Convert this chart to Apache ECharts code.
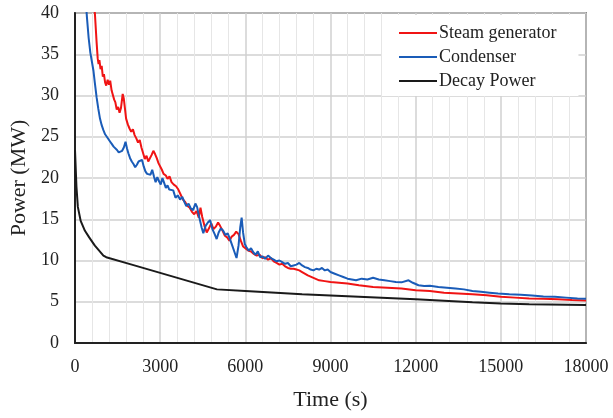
<!DOCTYPE html>
<html>
<head>
<meta charset="utf-8">
<script src="https://cdn.jsdelivr.net/npm/echarts@6/dist/echarts.min.js"></script>
<style>
  html, body { margin: 0; padding: 0; background: #fff; }
  #chart { width: 613px; height: 418px; }
</style>
</head>
<body>
<div id="chart"></div>
<script>
// time (s) and power (MW)
var seriesNames = ['Steam generator', 'Condenser', 'Decay Power'];

var sgTime = [640, 700, 760, 800, 830, 860, 900, 940, 980, 1020, 1060, 1100, 1150, 1200, 1240, 1290, 1340, 1380, 1420, 1470,
    1520, 1570, 1620, 1680, 1720, 1760, 1800, 1860, 1920, 1980, 2040, 2100, 2160, 2220, 2280, 2340, 2400, 2460, 2520, 2580,
    2640, 2700, 2760, 2820, 2880, 2940, 3000, 3060, 3120, 3200, 3260, 3330, 3400, 3480, 3560, 3640, 3720, 3800, 3880, 3960,
    4040, 4120, 4200, 4280, 4360, 4420, 4480, 4560, 4640, 4720, 4800, 4880, 4960, 5040, 5110, 5200, 5280, 5360, 5440, 5520,
    5600, 5680, 5760, 5840, 5920, 6000, 6100, 6200, 6300, 6400, 6500, 6600, 6700, 6800, 6900, 7000, 7100, 7200, 7300, 7400,
    7500, 7600, 7700, 7800, 7900, 8000, 8200, 8400, 8600, 8800, 9000, 9300, 9600, 10000, 10500, 11000, 11500, 12000, 12500, 13000,
    13500, 14000, 14500, 15000, 15500, 16000, 16500, 17000, 17500, 18000];
var sgPower = [41, 40, 36.5, 34.5, 33.8, 34.3, 33.2, 33.6, 32.3, 32.6, 31.6, 31.2, 31.9, 31.3, 31.8, 30.6, 30.4, 29.5, 29.2, 28.3,
    28.6, 27.9, 28.5, 30.2, 29.6, 28.4, 27.2, 26.5, 26.0, 25.6, 25.9, 25.2, 24.8, 24.3, 24.6, 23.7, 23.0, 22.3, 22.7, 22.0,
    22.2, 22.8, 23.3, 22.9, 22.4, 21.8, 21.6, 21.0, 20.5, 20.3, 19.9, 20.2, 19.5, 19.2, 19.0, 18.6, 18.0, 17.4, 17.1, 16.6,
    16.4, 15.9, 15.6, 16.0, 15.2, 16.4, 15.3, 14.2, 13.4, 13.9, 14.5, 13.8, 14.1, 14.6, 14.2, 13.6, 13.0, 12.8, 12.4, 12.9,
    13.1, 13.5, 13.2, 12.4, 11.7, 11.5, 11.2, 11.1, 10.8, 10.6, 10.7, 10.3, 10.4, 10.1, 10.3, 9.9, 9.7, 9.5, 9.6, 9.3,
    9.1, 9.0, 9.0, 8.9, 8.8, 8.6, 8.2, 7.9, 7.6, 7.5, 7.4, 7.3, 7.2, 7.0, 6.8, 6.7, 6.6, 6.4, 6.3, 6.1,
    6.0, 5.9, 5.8, 5.6, 5.5, 5.4, 5.35, 5.3, 5.2, 5.15];

var cdTime = [380, 420, 480, 540, 600, 650, 700, 760, 820, 880, 940, 1000, 1060, 1120, 1180, 1240, 1300, 1360, 1420, 1480,
    1540, 1600, 1660, 1720, 1780, 1830, 1880, 1940, 2000, 2060, 2120, 2180, 2240, 2300, 2360, 2420, 2480, 2540, 2600, 2660,
    2720, 2780, 2840, 2900, 2960, 3020, 3080, 3140, 3200, 3260, 3320, 3380, 3460, 3540, 3620, 3700, 3780, 3850, 3920, 4000,
    4080, 4160, 4240, 4300, 4380, 4460, 4520, 4600, 4680, 4760, 4840, 4920, 4990, 5060, 5140, 5220, 5300, 5380, 5460, 5540,
    5620, 5690, 5760, 5820, 5870, 5920, 5980, 6040, 6120, 6200, 6280, 6360, 6440, 6520, 6600, 6700, 6800, 6900, 7000, 7100,
    7200, 7300, 7400, 7500, 7600, 7700, 7800, 7900, 8000, 8100, 8200, 8300, 8400, 8500, 8600, 8700, 8800, 8900, 9000, 9150,
    9300, 9450, 9600, 9750, 9900, 10100, 10300, 10500, 10700, 10900, 11100, 11300, 11500, 11750, 11900, 12100, 12300, 12500, 12800, 13100,
    13400, 13700, 14000, 14300, 14600, 14900, 15300, 15700, 16100, 16500, 16900, 17300, 17700, 18000];
var cdPower = [41.5, 39.5, 37, 35.2, 34.0, 33.0, 31.5, 29.8, 28.4, 27.2, 26.4, 25.8, 25.3, 25.0, 24.7, 24.4, 24.1, 23.8, 23.6, 23.4,
    23.1, 22.9, 23.3, 23.7, 24.4, 23.6, 23.0, 22.4, 22.0, 21.7, 21.3, 21.6, 22.0, 21.8, 22.2, 21.4, 20.8, 20.5, 20.3, 20.4,
    21.0, 20.2, 19.5, 20.1, 19.6, 19.2, 20.0, 19.4, 18.8, 19.1, 18.6, 18.4, 18.5, 17.6, 17.9, 17.4, 17.7, 17.1, 16.6, 16.9,
    16.3, 16.1, 16.9, 16.5, 15.2, 14.0, 13.3, 14.2, 14.6, 14.9, 13.8, 13.2, 12.6, 13.4, 13.9, 13.6, 13.1, 13.3, 12.6, 11.8,
    11.0, 10.3, 11.8, 14.0, 15.2, 13.4, 12.0, 11.6, 11.2, 11.5, 11.0, 10.7, 11.1, 10.4, 10.5, 10.2, 10.6, 10.3, 10.1, 9.9,
    10.0, 9.8, 9.6, 9.7, 9.3, 9.4, 9.5, 9.7, 9.4, 9.2, 9.1, 8.9, 8.8, 9.0, 8.9, 9.1, 8.8, 8.9, 8.6, 8.4,
    8.2, 8.0, 7.8, 7.7, 7.6, 7.8, 7.7, 7.9, 7.7, 7.6, 7.5, 7.4, 7.35, 7.6, 7.3, 7.0, 6.9, 6.95, 6.8, 6.7,
    6.6, 6.5, 6.3, 6.2, 6.1, 6.0, 5.9, 5.85, 5.75, 5.65, 5.6, 5.5, 5.4, 5.35];

var dpTime = [0, 50, 100, 200, 350, 500, 700, 1000, 1100, 2000, 3000, 4000, 5000, 6000, 8000, 10000, 12000, 14000, 15000, 16000, 18000];
var dpPower = [23.4, 19, 16.5, 14.8, 13.6, 12.8, 11.8, 10.6, 10.4, 9.5, 8.5, 7.5, 6.5, 6.3, 5.9, 5.6, 5.3, 4.95, 4.8, 4.7, 4.6];

var xTicks = [0, 3000, 6000, 9000, 12000, 15000, 18000];
var yTicks = [0, 5, 10, 15, 20, 25, 30, 35, 40];

function zip(t, v) {
    var out = [];
    for (var i = 0; i < t.length; i++) {
        out.push([t[i], v[i]]);
    }
    return out;
}

var font = '"Liberation Serif", "Times New Roman", serif';
var colors = ['#f01414', '#1a5cb8', '#1a1a1a'];

var chart = echarts.init(document.getElementById('chart'));
var option = {
    animation: false,
    backgroundColor: '#fff',
    grid: {
        left: 75, right: 27, top: 13, bottom: 75,
        show: true,
        borderColor: '#333',
        borderWidth: 1.5
    },
    legend: {
        orient: 'vertical',
        left: 382,
        top: 15,
        padding: [9, 22, 6, 17],
        backgroundColor: '#fff',
        itemWidth: 38,
        itemHeight: 2,
        itemGap: 6,
        icon: 'rect',
        textStyle: { fontFamily: font, fontSize: 18, color: '#222', padding: [0, 0, 0, -3] },
        data: seriesNames
    },
    xAxis: {
        type: 'value',
        min: xTicks[0],
        max: xTicks[xTicks.length - 1],
        interval: 3000,
        name: 'Time (s)',
        nameLocation: 'middle',
        nameGap: 46,
        nameTextStyle: { fontFamily: font, fontSize: 22, color: '#222' },
        axisLine: { show: true, lineStyle: { color: '#222', width: 2 } },
        axisTick: { show: false },
        axisLabel: {
            fontFamily: font, fontSize: 18, color: '#222', margin: 15,
            formatter: function (v) { return String(v); }
        },
        splitLine: { show: true, lineStyle: { color: '#d0d0d0', width: 1.5 } },
        minorTick: { show: false, splitNumber: 5 },
        minorSplitLine: { show: true, lineStyle: { color: '#e6e6e6', width: 1 } }
    },
    yAxis: {
        type: 'value',
        min: yTicks[0],
        max: yTicks[yTicks.length - 1],
        interval: 5,
        name: 'Power (MW)',
        nameLocation: 'middle',
        nameGap: 45,
        nameTextStyle: { fontFamily: font, fontSize: 22, color: '#222' },
        axisLine: { show: true, lineStyle: { color: '#222', width: 2 } },
        axisTick: { show: false },
        axisLabel: { fontFamily: font, fontSize: 18, color: '#222', margin: 16 },
        splitLine: { show: true, lineStyle: { color: '#d0d0d0', width: 1.5 } }
    },
    series: [
        {
            name: seriesNames[0],
            type: 'line',
            data: zip(sgTime, sgPower),
            showSymbol: false,
            clip: true,
            z: 3,
            lineStyle: { color: colors[0], width: 2 },
            itemStyle: { color: colors[0] }
        },
        {
            name: seriesNames[1],
            type: 'line',
            data: zip(cdTime, cdPower),
            showSymbol: false,
            clip: true,
            z: 4,
            lineStyle: { color: colors[1], width: 2 },
            itemStyle: { color: colors[1] }
        },
        {
            name: seriesNames[2],
            type: 'line',
            data: zip(dpTime, dpPower),
            showSymbol: false,
            clip: true,
            z: 2,
            lineStyle: { color: colors[2], width: 2 },
            itemStyle: { color: colors[2] }
        }
    ]
};
chart.setOption(option);
</script>
</body>
</html>
